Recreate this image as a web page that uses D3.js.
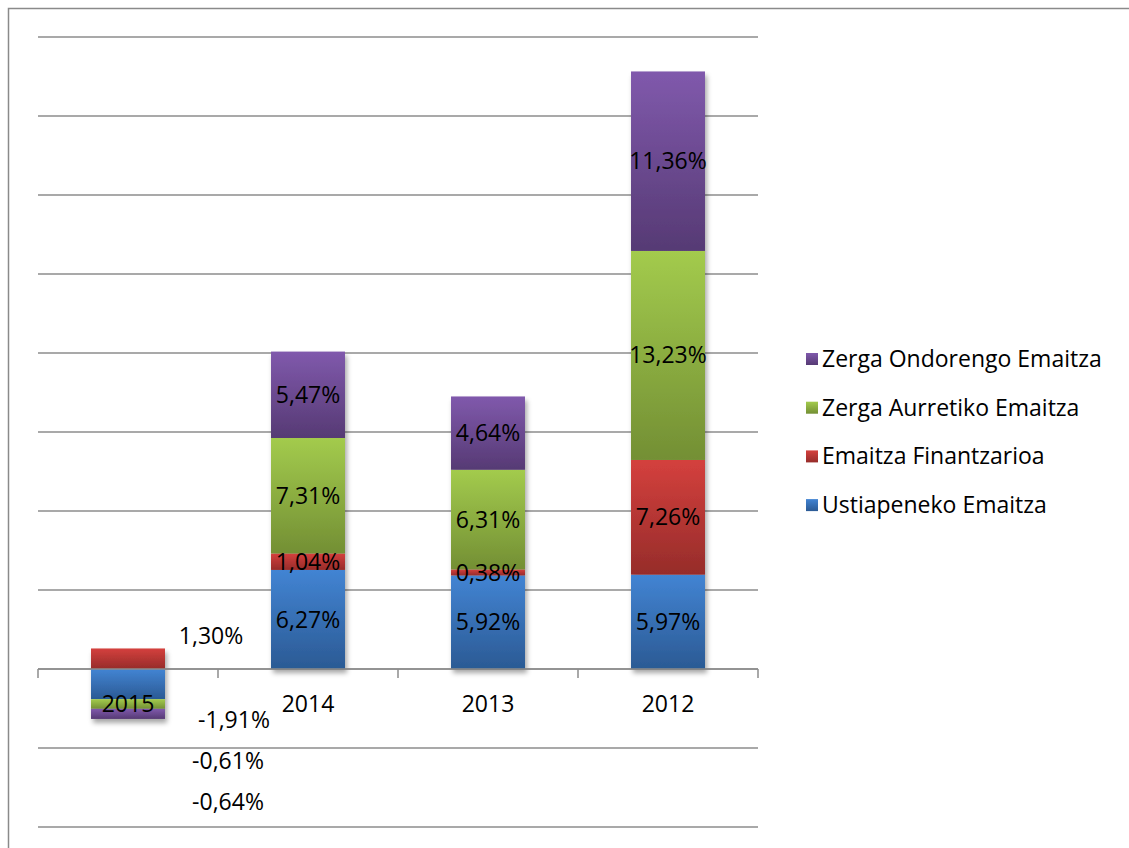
<!DOCTYPE html>
<html>
<head>
<meta charset="utf-8">
<script src="https://cdn.jsdelivr.net/npm/d3@7"></script>
<style>
  html, body { margin: 0; padding: 0; background: #fff; }
  svg { display: block; font-family: "Open Sans", "DejaVu Sans", sans-serif; }
</style>
</head>
<body>
<svg id="chart" width="1129" height="848"></svg>
<script>
// Years shown on the category axis, left to right
const years = ["2015", "2014", "2013", "2012"];

// Series (stacked bottom to top), values in percent
const seriesNames = [
  "Ustiapeneko Emaitza",
  "Emaitza Finantzarioa",
  "Zerga Aurretiko Emaitza",
  "Zerga Ondorengo Emaitza"
];
const ustiapeneko   = [-1.91, 6.27, 5.92, 5.97];
const finantzarioa  = [ 1.30, 1.04, 0.38, 7.26];
const aurretiko     = [-0.61, 7.31, 6.31, 13.23];
const ondorengo     = [-0.64, 5.47, 4.64, 11.36];

// Value axis range and gridline step (percent)
const yDomain = [-10, 40];
const yTicks = d3.range(-10, 41, 5);

const seriesValues = [ustiapeneko, finantzarioa, aurretiko, ondorengo];

const colors = [
  { top: "#4284d3", bottom: "#2b5a94" },
  { top: "#d4403d", bottom: "#962c2a" },
  { top: "#a3cb4d", bottom: "#738f34" },
  { top: "#8059ac", bottom: "#563a74" }
];

const svg = d3.select("#chart");
const W = 1129, H = 848;
const plot = { left: 38, right: 758, top: 37, bottom: 827 };

const x = d3.scaleBand()
  .domain(years)
  .range([plot.left, plot.right])
  .paddingInner(0.589)
  .paddingOuter(0.2945);

const y = d3.scaleLinear()
  .domain(yDomain)
  .range([plot.bottom, plot.top]);

const defs = svg.append("defs");
colors.forEach((c, i) => {
  const g = defs.append("linearGradient")
    .attr("id", "grad" + i)
    .attr("x1", 0).attr("y1", 0).attr("x2", 0).attr("y2", 1);
  g.append("stop").attr("offset", "0%").attr("stop-color", c.top);
  g.append("stop").attr("offset", "100%").attr("stop-color", c.bottom);
});
const shadow = defs.append("filter").attr("id", "shadow")
  .attr("x", "-20%").attr("y", "-20%").attr("width", "150%").attr("height", "150%");
shadow.append("feDropShadow")
  .attr("dx", 2).attr("dy", 4).attr("stdDeviation", 2.5)
  .attr("flood-color", "#000").attr("flood-opacity", 0.35);

// Outer frame of the chart area
svg.append("rect")
  .attr("x", 8.5).attr("y", 8.5)
  .attr("width", W + 20).attr("height", H + 20)
  .attr("fill", "none").attr("stroke", "#8a8a8a").attr("stroke-width", 1.5);

// Horizontal gridlines
svg.append("g")
  .selectAll("line")
  .data(yTicks)
  .join("line")
  .attr("x1", plot.left).attr("x2", plot.right)
  .attr("y1", d => y(d)).attr("y2", d => y(d))
  .attr("stroke", "#8c8c8c").attr("stroke-width", 1.5);

// Stack with positive and negative values diverging from zero
const table = years.map((yr, i) => {
  const row = { year: yr };
  seriesNames.forEach((s, k) => { row[s] = seriesValues[k][i]; });
  return row;
});
const stacked = d3.stack()
  .keys(seriesNames)
  .offset(d3.stackOffsetDiverging)(table);

const barLayer = svg.append("g").attr("filter", "url(#shadow)");
stacked.forEach((layer, k) => {
  barLayer.append("g")
    .selectAll("rect")
    .data(layer)
    .join("rect")
    .attr("x", d => x(d.data.year))
    .attr("width", x.bandwidth())
    .attr("y", d => y(Math.max(d[0], d[1])))
    .attr("height", d => Math.abs(y(d[0]) - y(d[1])))
    .attr("fill", `url(#grad${k})`);
});

// Category axis on the zero line
const xAxis = svg.append("g").attr("transform", `translate(0,${y(0)})`);
xAxis.append("line")
  .attr("x1", plot.left).attr("x2", plot.right)
  .attr("stroke", "#8c8c8c").attr("stroke-width", 1.5);
const tickXs = years.map((yr, i) => plot.left + i * x.step());
tickXs.push(plot.right);
xAxis.selectAll("line.tick")
  .data(tickXs)
  .join("line")
  .attr("class", "tick")
  .attr("x1", d => d).attr("x2", d => d)
  .attr("y1", 0).attr("y2", 9)
  .attr("stroke", "#8c8c8c").attr("stroke-width", 1.5);
xAxis.selectAll("text")
  .data(years)
  .join("text")
  .attr("x", d => x(d) + x.bandwidth() / 2)
  .attr("y", 35)
  .attr("dy", "0.35em")
  .attr("text-anchor", "middle")
  .attr("font-size", 23)
  .attr("fill", "#000")
  .text(d => d);

// Percent format with decimal comma and a plain hyphen for negatives
const locale = d3.formatLocale({ decimal: ",", thousands: ".", grouping: [3], currency: ["", "€"], minus: "-" });
const fmt = v => locale.format(".2f")(v) + "%";

// Value labels centred in each segment (years with all-positive stacks)
const labelLayer = svg.append("g");
stacked.forEach((layer, k) => {
  layer.forEach((d, i) => {
    if (d.data.year === "2015") return;
    labelLayer.append("text")
      .attr("x", x(d.data.year) + x.bandwidth() / 2)
      .attr("y", (y(d[0]) + y(d[1])) / 2)
      .attr("dy", "0.35em")
      .attr("text-anchor", "middle")
      .attr("font-size", 23)
      .attr("fill", "#000")
      .text(fmt(seriesValues[k][i]));
  });
});

// 2015 labels sit beside the short bar (offset in px from bar centre, value-axis position)
const labels2015 = [
  { series: 1, dx: 83,  at: 2.1 },
  { series: 0, dx: 106, at: -3.25 },
  { series: 2, dx: 100, at: -5.8 },
  { series: 3, dx: 100, at: -8.4 }
];
const c2015 = x("2015") + x.bandwidth() / 2;
labels2015.forEach(l => {
  labelLayer.append("text")
    .attr("x", c2015 + l.dx)
    .attr("y", y(l.at))
    .attr("dy", "0.35em")
    .attr("text-anchor", "middle")
    .attr("font-size", 23)
    .attr("fill", "#000")
    .text(fmt(seriesValues[l.series][0]));
});

// Legend, top series first
const legendOrder = [3, 2, 1, 0];
const legend = svg.append("g").attr("transform", "translate(806,359)");
legendOrder.forEach((k, j) => {
  const g = legend.append("g").attr("transform", `translate(0,${j * 48.7})`);
  g.append("rect")
    .attr("x", 0).attr("y", -6).attr("width", 12).attr("height", 12)
    .attr("fill", `url(#grad${k})`);
  g.append("text")
    .attr("x", 16).attr("y", 0).attr("dy", "0.35em")
    .attr("font-size", 23)
    .attr("fill", "#000")
    .text(seriesNames[k]);
});
</script>
</body>
</html>
